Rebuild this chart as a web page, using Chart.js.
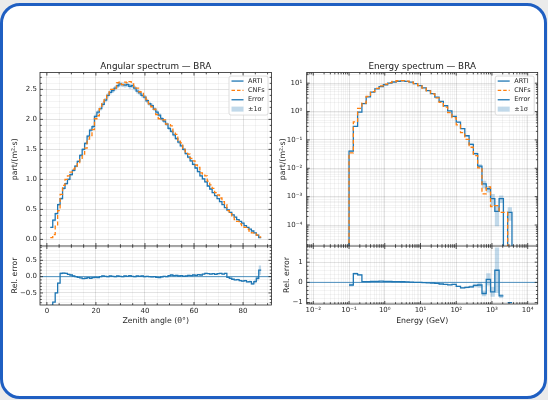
<!DOCTYPE html>
<html>
<head>
<meta charset="utf-8">
<script src="https://cdn.jsdelivr.net/npm/chart.js@4.4.1/dist/chart.umd.min.js"></script>
<style>
  html, body { margin: 0; padding: 0; background: #ebebeb; }
  #page { position: relative; width: 548px; height: 400px; overflow: hidden; }
  #card { position: absolute; left: 0; top: 3px; width: 547px; height: 396px; box-sizing: border-box;
          border: 3px solid #1f5fc2; border-radius: 20px; background: #fff; }
  canvas { position: absolute; }
</style>
</head>
<body>
<div id="page">
  <div id="card"></div>
  <canvas id="angMain" width="276" height="196" style="left:0;top:50px"></canvas>
  <canvas id="angRes" width="276" height="84" style="left:0;top:246px"></canvas>
  <canvas id="enMain" width="268" height="196" style="left:276px;top:50px"></canvas>
  <canvas id="enRes" width="268" height="84" style="left:276px;top:246px"></canvas>
</div>
<script>
// zenith angle histogram: 1 degree bins starting at 1.4 deg
const angBinStart = 1.4;
const angBinWidth = 1.0;

const artiAng = [
  0.20, 0.32, 0.43, 0.58, 0.68, 0.85, 0.93, 1.00, 1.08, 1.15,
  1.22, 1.30, 1.40, 1.50, 1.60, 1.72, 1.82, 1.88, 2.05, 2.12,
  2.18, 2.25, 2.32, 2.40, 2.45, 2.48, 2.52, 2.56, 2.59, 2.58,
  2.57, 2.58, 2.55, 2.56, 2.52, 2.47, 2.44, 2.40, 2.37, 2.31,
  2.26, 2.23, 2.17, 2.12, 2.07, 2.01, 1.97, 1.92, 1.85, 1.80,
  1.74, 1.68, 1.62, 1.56, 1.50, 1.43, 1.37, 1.31, 1.25, 1.19,
  1.13, 1.06, 1.01, 0.96, 0.89, 0.84, 0.78, 0.73, 0.68, 0.63,
  0.58, 0.53, 0.49, 0.45, 0.41, 0.37, 0.33, 0.30, 0.27, 0.23,
  0.20, 0.17, 0.14, 0.11, 0.07, 0.03
];
const cnfAng = [
  0.03, 0.08, 0.22, 0.48, 0.75, 0.90, 1.00, 1.06, 1.12, 1.17,
  1.22, 1.28, 1.35, 1.42, 1.52, 1.67, 1.73, 1.83, 2.01, 2.06,
  2.18, 2.29, 2.34, 2.40, 2.50, 2.50, 2.52, 2.61, 2.62, 2.58,
  2.62, 2.61, 2.63, 2.59, 2.52, 2.52, 2.46, 2.45, 2.37, 2.33,
  2.26, 2.21, 2.17, 2.08, 2.01, 1.99, 1.99, 1.92, 1.91, 1.89,
  1.79, 1.75, 1.65, 1.61, 1.52, 1.46, 1.42, 1.35, 1.31, 1.24,
  1.20, 1.11, 1.09, 1.06, 0.97, 0.91, 0.85, 0.78, 0.74, 0.69,
  0.63, 0.58, 0.48, 0.43, 0.38, 0.33, 0.30, 0.26, 0.23, 0.20,
  0.17, 0.14, 0.11, 0.09, 0.07, 0.04
];
const resAng = [
  -0.88, -0.78, -0.50, -0.20, 0.10, 0.11, 0.10, 0.07, 0.05, 0.02,
  0.00, -0.02, -0.04, -0.06, -0.05, -0.03, -0.05, -0.03, -0.02, -0.03,
  0.00, 0.02, 0.01, 0.00, 0.02, 0.01, 0.00, 0.02, 0.01, 0.00,
  0.02, 0.01, 0.03, 0.01, 0.00, 0.02, 0.01, 0.02, 0.00, 0.01,
  0.00, -0.01, 0.00, -0.02, -0.03, -0.01, 0.01, 0.00, 0.03, 0.05,
  0.03, 0.04, 0.02, 0.03, 0.01, 0.02, 0.04, 0.03, 0.05, 0.04,
  0.06, 0.05, 0.08, 0.10, 0.09, 0.08, 0.09, 0.07, 0.09, 0.10,
  0.08, 0.10, -0.02, -0.05, -0.08, -0.10, -0.09, -0.12, -0.14, -0.12,
  -0.16, -0.15, -0.22, -0.15, -0.05, 0.20
];
// relative statistical uncertainty of ARTI per bin
const errAng = [
  0.06, 0.05, 0.04, 0.03, 0.03, 0.025, 0.02, 0.02, 0.02, 0.02,
  0.015, 0.015, 0.015, 0.015, 0.015, 0.015, 0.015, 0.015, 0.015, 0.015,
  0.015, 0.015, 0.015, 0.015, 0.015, 0.015, 0.015, 0.015, 0.015, 0.015,
  0.015, 0.015, 0.015, 0.015, 0.015, 0.015, 0.015, 0.015, 0.015, 0.015,
  0.015, 0.015, 0.015, 0.015, 0.015, 0.015, 0.015, 0.015, 0.015, 0.015,
  0.015, 0.015, 0.015, 0.015, 0.015, 0.015, 0.015, 0.015, 0.015, 0.015,
  0.015, 0.015, 0.015, 0.015, 0.015, 0.015, 0.015, 0.015, 0.015, 0.015,
  0.015, 0.015, 0.02, 0.02, 0.02, 0.02, 0.025, 0.025, 0.03, 0.03,
  0.035, 0.04, 0.05, 0.06, 0.08, 0.12
];

// energy histogram: log10(E/GeV) bins from -1 in steps of 0.12
const enLogStart = -1;
const enLogWidth = 0.12;

const artiEn = [
  0.04, 0.30, 0.95, 1.9, 3.3, 4.8, 6.3, 7.6, 8.8, 10.0,
  11.0, 11.7, 12.0, 11.6, 10.8, 9.6, 8.2, 6.8, 5.5, 4.3,
  3.2, 2.3, 1.6, 1.05, 0.68, 0.42, 0.25, 0.14, 0.07, 0.033,
  0.012, 0.0028, 0.0019, 0.00085, 0.0003, 0.00085, 0, 0.00028
];
const cnfEn = [
  0.035, 0.43, 1.30, 1.98, 3.43, 5.04, 6.6, 8.06, 9.24, 10.5,
  11.44, 12.17, 12.36, 11.83, 10.9, 9.6, 8.2, 6.73, 5.39, 4.17,
  3.04, 2.12, 1.44, 0.92, 0.61, 0.34, 0.18, 0.105, 0.055, 0.028,
  0.0104, 0.00126, 0.0022, 0.00045, 0.00048, 0.00028, 0.00028, 0
];
const resEn = [
  -0.13, 0.43, 0.37, 0.04, 0.04, 0.05, 0.05, 0.06, 0.05, 0.05,
  0.04, 0.04, 0.03, 0.02, 0.01, 0.00, 0.00, -0.01, -0.02, -0.03,
  -0.05, -0.08, -0.10, -0.12, -0.10, -0.20, -0.27, -0.25, -0.22, -0.15,
  -0.13, -0.55, 0.15, -0.47, 0.60, -0.67, null, -1.0
];
const errEn = [
  0.08, 0.04, 0.03, 0.015, 0.012, 0.01, 0.01, 0.01, 0.01, 0.01,
  0.01, 0.01, 0.01, 0.01, 0.01, 0.01, 0.01, 0.012, 0.012, 0.015,
  0.015, 0.02, 0.02, 0.025, 0.03, 0.04, 0.05, 0.06, 0.08, 0.10,
  0.15, 0.30, 0.26, 0.45, 0.70, 0.30, 0, 0.50
];

// axis limits
const angX = [-2.8, 91.6];
const angY = [-0.11, 2.78];
const angResY = [-0.87, 0.94];
const enX = [Math.pow(10, -2.185), Math.pow(10, 4.28)];
const enY = [Math.pow(10, -4.74), Math.pow(10, 1.374)];
const enResY = [-1.07, 1.8];
const LOG_FLOOR = 1e-9;   // stands in for empty bins on log axes

const C_BLUE = '#1f77b4';
const C_ORANGE = '#ff7f0e';
const C_BAND = 'rgba(31,119,180,0.28)';
const GRID_MAJOR = 'rgba(0,0,0,0.14)';
const GRID_MINOR = 'rgba(0,0,0,0.06)';
const INK = '#262626';

Chart.defaults.font.family = '"DejaVu Sans", "Liberation Sans", sans-serif';
Chart.defaults.color = INK;

function binEdges(start, width, n, toX) {
  const e = [];
  for (let i = 0; i <= n; i++) e.push(toX(start + i * width));
  return e;
}

// histogram outline: one horizontal segment per bin
function stepPoints(edges, vals, floor) {
  const pts = [];
  vals.forEach((v, i) => {
    let y = v;
    if (v !== null && floor !== undefined && v <= 0) y = floor;
    pts.push({ x: edges[i], y: y }, { x: edges[i + 1], y: y });
  });
  return pts;
}

function linTicks(min, max, step, majorStep) {
  const out = [];
  for (let k = Math.ceil(min / step - 1e-9); k * step <= max + 1e-9; k++) {
    const v = +(k * step).toFixed(6);
    const r = v / majorStep;
    out.push({ value: v, major: Math.abs(r - Math.round(r)) < 1e-6 });
  }
  return out;
}

function logTicks(min, max) {
  const out = [];
  for (let d = Math.floor(Math.log10(min)); d <= Math.ceil(Math.log10(max)); d++) {
    for (let m = 1; m <= 9; m++) {
      const v = m * Math.pow(10, d);
      if (v >= min && v <= max) out.push({ value: v, major: m === 1 });
    }
  }
  return out;
}

const SUP = { '-': '⁻', '0': '⁰', '1': '¹', '2': '²', '3': '³', '4': '⁴', '5': '⁵', '6': '⁶', '7': '⁷', '8': '⁸', '9': '⁹' };
const pow10Label = v => '10' + String(Math.round(Math.log10(v))).split('').map(c => SUP[c]).join('');
const withMinus = s => s.replace('-', '−');

function axis(o) {
  return {
    type: o.type || 'linear',
    min: o.min, max: o.max, bounds: 'data',
    afterBuildTicks: s => { s.ticks = o.ticks.map(t => ({ value: t.value, major: t.major })); },
    afterFit: s => {
      if (o.horizontal) s.height = o.size; else s.width = o.size;
      s.paddingLeft = s.paddingRight = s.paddingTop = s.paddingBottom = 0;
    },
    ticks: {
      display: o.labels !== false, autoSkip: false, maxRotation: 0, minRotation: 0,
      padding: o.labelPad || 3, font: { size: 7 }, color: INK,
      callback: (v, i, t) => (t[i] && t[i].major) ? o.fmt(v) : ''
    },
    grid: { color: c => (c.tick && c.tick.major) ? GRID_MAJOR : GRID_MINOR, lineWidth: 0.8, drawTicks: false },
    border: { display: false },
    title: o.title ? { display: true, text: o.title, font: { size: 7.8 }, color: INK, padding: o.titlePad } : { display: false }
  };
}

// spines on all four sides with inward tick marks
const frameTicks = {
  id: 'frameTicks',
  afterDraw(chart) {
    const { ctx, chartArea: a } = chart;
    ctx.save();
    ctx.strokeStyle = INK;
    ctx.lineWidth = 0.8;
    ctx.beginPath();
    Object.values(chart.scales).forEach(s => {
      s.ticks.forEach(t => {
        const len = t.major ? 3 : 1.8;
        const p = s.getPixelForValue(t.value);
        if (s.isHorizontal()) {
          if (p < a.left - 0.5 || p > a.right + 0.5) return;
          ctx.moveTo(p, a.bottom); ctx.lineTo(p, a.bottom - len);
          ctx.moveTo(p, a.top); ctx.lineTo(p, a.top + len);
        } else {
          if (p < a.top - 0.5 || p > a.bottom + 0.5) return;
          ctx.moveTo(a.left, p); ctx.lineTo(a.left + len, p);
          ctx.moveTo(a.right, p); ctx.lineTo(a.right - len, p);
        }
      });
    });
    ctx.stroke();
    ctx.strokeRect(a.left, a.top, a.right - a.left, a.bottom - a.top);
    ctx.restore();
  }
};

const legendItems = [
  { label: 'ARTI', kind: 'line', color: C_BLUE },
  { label: 'CNFs', kind: 'dash', color: C_ORANGE },
  { label: 'Error', kind: 'line', color: C_BLUE },
  { label: '±1σ', kind: 'patch', color: C_BAND }
];

// framed legend in the upper right corner of the plot area
const legendBox = {
  id: 'legendBox',
  afterDraw(chart, args, opts) {
    if (!opts.show) return;
    const { ctx, chartArea: a } = chart;
    const w = 39, h = 39, rowH = 9.35;
    const left = a.right - 3.5 - w, top = a.top + 3.5;
    ctx.save();
    ctx.beginPath();
    ctx.roundRect(left, top, w, h, 2);
    ctx.fillStyle = 'rgba(255,255,255,0.85)';
    ctx.fill();
    ctx.strokeStyle = '#d4d4d4';
    ctx.lineWidth = 0.8;
    ctx.stroke();
    ctx.font = '6.5px "DejaVu Sans", sans-serif';
    ctx.textBaseline = 'middle';
    legendItems.forEach((it, i) => {
      const cy = top + 5 + i * rowH;
      if (it.kind === 'patch') {
        ctx.fillStyle = it.color;
        ctx.fillRect(left + 2.5, cy - 2.5, 12, 5);
      } else {
        ctx.strokeStyle = it.color;
        ctx.lineWidth = 1.3;
        ctx.setLineDash(it.kind === 'dash' ? [3.5, 2] : []);
        ctx.beginPath();
        ctx.moveTo(left + 2.5, cy);
        ctx.lineTo(left + 14.5, cy);
        ctx.stroke();
        ctx.setLineDash([]);
      }
      ctx.fillStyle = INK;
      ctx.fillText(it.label, left + 19, cy);
    });
    ctx.restore();
  }
};

function lineSet(label, data, color, width, dash) {
  return { label, data, borderColor: color, borderWidth: width, borderDash: dash || [],
           fill: false, pointRadius: 0, spanGaps: false };
}
function bandSets(upper, lower) {
  return [
    { label: '±1σ', data: upper, borderColor: 'rgba(0,0,0,0)', borderWidth: 0, backgroundColor: C_BAND,
      fill: '+1', pointRadius: 0, spanGaps: false },
    { label: '', data: lower, borderColor: 'rgba(0,0,0,0)', borderWidth: 0, fill: false, pointRadius: 0, spanGaps: false }
  ];
}

function makeChart(id, datasets, x, y, title, padRight, withLegend) {
  return new Chart(document.getElementById(id), {
    type: 'line',
    data: { datasets },
    options: {
      responsive: false, animation: false, devicePixelRatio: 1, events: [],
      layout: { padding: { left: 0, top: 0, bottom: 0, right: padRight }, autoPadding: false },
      elements: { point: { radius: 0 }, line: { tension: 0, borderJoinStyle: 'miter', borderCapStyle: 'butt' } },
      plugins: {
        legend: { display: false },
        tooltip: { enabled: false },
        title: title
          ? { display: true, text: title, fullSize: false, font: { size: 8.8, weight: 'normal' }, color: '#1a1a1a', padding: { top: 11, bottom: 1 } }
          : { display: false },
        legendBox: { show: withLegend }
      },
      scales: { x, y }
    },
    plugins: [frameTicks, legendBox]
  });
}

// ---- angular spectrum ----
const angEdges = binEdges(angBinStart, angBinWidth, artiAng.length, v => v);
const angXTicks = linTicks(angX[0], angX[1], 5, 20);

makeChart('angMain', [
  lineSet('CNFs', stepPoints(angEdges, cnfAng), C_ORANGE, 1.3, [4, 2.5]),
  lineSet('ARTI', stepPoints(angEdges, artiAng), C_BLUE, 1.3),
  ...bandSets(stepPoints(angEdges, artiAng.map((v, i) => v * (1 + errAng[i]))),
              stepPoints(angEdges, artiAng.map((v, i) => v * (1 - errAng[i]))))
],
  axis({ min: angX[0], max: angX[1], ticks: angXTicks, fmt: v => String(v), horizontal: true, size: 0, labels: false }),
  axis({ min: angY[0], max: angY[1], ticks: linTicks(angY[0], angY[1], 0.1, 0.5), fmt: v => v.toFixed(1),
         size: 40, title: 'part/(m²·s)', titlePad: { top: 10.3, bottom: 0 } }),
  'Angular spectrum — BRA', 4.5, true);

makeChart('angRes', [
  lineSet('Error', stepPoints(angEdges, resAng), C_BLUE, 1.3),
  lineSet('', [{ x: angX[0], y: 0 }, { x: angX[1], y: 0 }], 'rgba(31,119,180,0.85)', 0.9),
  ...bandSets(stepPoints(angEdges, resAng.map((r, i) => r + (1 + r) * errAng[i])),
              stepPoints(angEdges, resAng.map((r, i) => r - (1 + r) * errAng[i])))
],
  axis({ min: angX[0], max: angX[1], ticks: angXTicks, fmt: v => String(v), horizontal: true, size: 25,
         labelPad: 2, title: 'Zenith angle (θ°)', titlePad: { top: 0, bottom: 4.8 } }),
  axis({ min: angResY[0], max: angResY[1], ticks: linTicks(angResY[0], angResY[1], 0.1, 0.5),
         fmt: v => withMinus(v.toFixed(1)), size: 40, title: 'Rel. error', titlePad: { top: 10.3, bottom: 0 } }),
  null, 4.5, false);

// ---- energy spectrum ----
const enEdges = binEdges(enLogStart, enLogWidth, artiEn.length, v => Math.pow(10, v));
const enXTicks = logTicks(enX[0], enX[1]);
const enLast = enEdges[enEdges.length - 1];

makeChart('enMain', [
  lineSet('CNFs', [{ x: enEdges[0], y: LOG_FLOOR }, ...stepPoints(enEdges, cnfEn, LOG_FLOOR), { x: enLast, y: LOG_FLOOR }],
          C_ORANGE, 1.3, [4, 2.5]),
  lineSet('ARTI', [{ x: enEdges[0], y: LOG_FLOOR }, ...stepPoints(enEdges, artiEn, LOG_FLOOR), { x: enLast, y: LOG_FLOOR }],
          C_BLUE, 1.3),
  ...bandSets(stepPoints(enEdges, artiEn.map((v, i) => v * (1 + errEn[i])), LOG_FLOOR),
              stepPoints(enEdges, artiEn.map((v, i) => v * (1 - errEn[i])), LOG_FLOOR))
],
  axis({ type: 'logarithmic', min: enX[0], max: enX[1], ticks: enXTicks, fmt: pow10Label, horizontal: true, size: 0, labels: false }),
  axis({ type: 'logarithmic', min: enY[0], max: enY[1], ticks: logTicks(enY[0], enY[1]), fmt: pow10Label,
         size: 30.7, labelPad: 4.5, title: 'part/(m²·s)', titlePad: { top: 2, bottom: 0 } }),
  'Energy spectrum — BRA', 6.3, true);

makeChart('enRes', [
  lineSet('Error', stepPoints(enEdges, resEn), C_BLUE, 1.3),
  lineSet('', [{ x: enX[0], y: 0 }, { x: enX[1], y: 0 }], 'rgba(31,119,180,0.85)', 0.9),
  ...bandSets(stepPoints(enEdges, resEn.map((r, i) => r === null ? null : r + (1 + r) * errEn[i])),
              stepPoints(enEdges, resEn.map((r, i) => r === null ? null : r - (1 + r) * errEn[i])))
],
  axis({ type: 'logarithmic', min: enX[0], max: enX[1], ticks: enXTicks, fmt: pow10Label, horizontal: true, size: 26,
         labelPad: 2, title: 'Energy (GeV)', titlePad: { top: 0, bottom: 4.8 } }),
  axis({ min: enResY[0], max: enResY[1], ticks: linTicks(enResY[0], enResY[1], 0.2, 1),
         fmt: v => withMinus(String(Math.round(v))), size: 30.7, labelPad: 4, title: 'Rel. error', titlePad: { top: 6, bottom: 0 } }),
  null, 6.3, false);
</script>
</body>
</html>
